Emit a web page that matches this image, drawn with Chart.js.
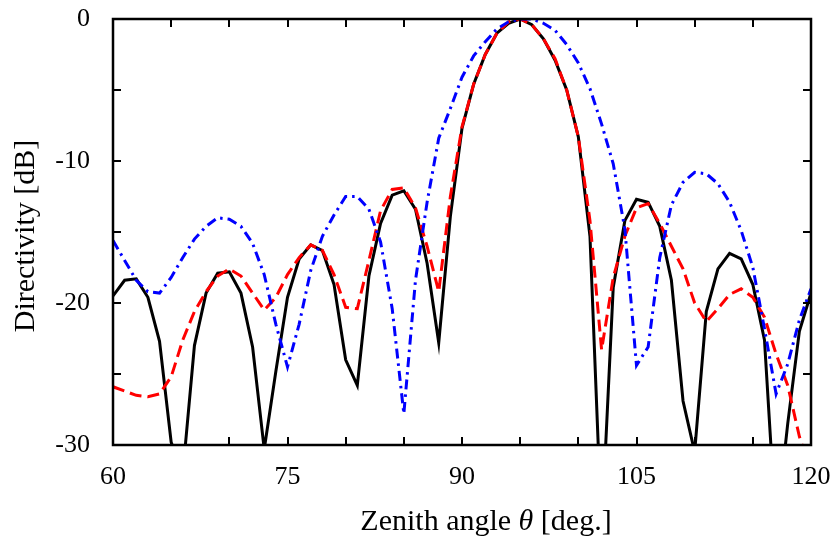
<!DOCTYPE html>
<html>
<head>
<meta charset="utf-8">
<script src="https://cdn.jsdelivr.net/npm/chart.js@4.4.1/dist/chart.umd.min.js"></script>
<style>
  html, body { margin: 0; padding: 0; background: #fff; }
  #wrap { width: 834px; height: 541px; }
</style>
</head>
<body>
<div id="wrap"><canvas id="dirChart" width="834" height="541"></canvas></div>
<script>
// Zenith angle samples [deg.]
const angles = [
    60, 61, 62, 63, 64, 65, 66, 67, 68, 69,
    70, 71, 72, 73, 74, 75, 76, 77, 78, 79,
    80, 81, 82, 83, 84, 85, 86, 87, 88, 89,
    90, 91, 92, 93, 94, 95, 96, 97, 98, 99,
    100, 101, 102, 103, 104, 105, 106, 107, 108, 109,
    110, 111, 112, 113, 114, 115, 116, 117, 118, 119, 120
];

// black solid curve [dB]
const solidDir = [
    -19.5, -18.4, -18.3, -19.6, -22.7, -29.8, -32, -23.0, -19.3, -17.9,
    -17.8, -19.3, -23.1, -30.3, -24.8, -19.6, -16.9, -15.9, -16.3, -18.7,
    -24.0, -25.8, -18.1, -14.4, -12.4, -12.1, -13.4, -17.2, -22.8, -13.9,
    -7.7, -4.6, -2.5, -1.0, -0.3, 0, -0.4, -1.4, -2.9, -5.0,
    -8.3, -15.3, -36, -18.9, -14.2, -12.7, -12.9, -14.6, -18.4, -26.9,
    -30.5, -20.6, -17.6, -16.5, -16.9, -18.7, -22.6, -36, -28.5, -22.0, -19.3
];

// red dashed curve [dB]
const dashedDir = [
    -25.9, -26.2, -26.5, -26.6, -26.4, -25.2, -22.6, -20.6, -19.2, -18.1,
    -17.6, -18.1, -19.3, -20.5, -19.6, -18.0, -16.8, -15.9, -16.3, -18.0,
    -20.3, -20.4, -17.0, -13.5, -12.0, -11.9, -13.3, -16.0, -19.2, -12.5,
    -7.6, -4.6, -2.5, -1.0, -0.2, 0, -0.4, -1.4, -2.8, -5.0,
    -8.3, -14.2, -23.3, -18.2, -15.3, -13.3, -13.0, -14.4, -16.0, -17.6,
    -20.0, -21.3, -20.4, -19.4, -19.0, -19.6, -21.0, -23.6, -25.8, -29.4, -32
];

// blue dash-dot curve [dB]
const dashDotDir = [
    -15.6, -17.0, -18.4, -19.2, -19.3, -18.2, -16.8, -15.5, -14.6, -14.0,
    -14.1, -14.6, -15.8, -18.0, -21.5, -24.5, -21.5, -17.7, -15.3, -13.8,
    -12.5, -12.5, -13.4, -15.7, -20.4, -27.8, -18.4, -12.9, -8.4, -6.3,
    -4.1, -2.6, -1.6, -0.7, -0.2, 0, 0, -0.3, -0.8, -1.8,
    -3.1, -4.9, -7.4, -10.2, -14.8, -24.4, -23.1, -16.8, -13.1, -11.5,
    -10.8, -10.9, -11.6, -12.9, -14.9, -17.5, -21.8, -26.4, -24.3, -21.2, -19.0
];

const xTicks = [60, 75, 90, 105, 120];
const yTicks = [0, -10, -20, -30];

const serif = "'Liberation Serif', 'Times New Roman', serif";

function toPoints(vals) {
    return angles.map((a, i) => ({ x: a, y: vals[i] }));
}

// frame, inward tick marks and the axis titles
const framePlugin = {
    id: 'frame',
    afterDraw(chart) {
        const { ctx, chartArea: a, scales } = chart;
        const tl = 8;
        ctx.save();
        ctx.strokeStyle = '#000';
        ctx.lineWidth = 2;
        ctx.beginPath();
        for (let v = 60; v <= 120; v += 5) {
            const px = Math.round(scales.x.getPixelForValue(v));
            ctx.moveTo(px, a.bottom); ctx.lineTo(px, a.bottom - tl);
            ctx.moveTo(px, a.top); ctx.lineTo(px, a.top + tl);
        }
        for (let v = -30; v <= 0; v += 5) {
            const py = Math.round(scales.y.getPixelForValue(v));
            ctx.moveTo(a.left, py); ctx.lineTo(a.left + tl, py);
            ctx.moveTo(a.right, py); ctx.lineTo(a.right - tl, py);
        }
        ctx.stroke();
        ctx.lineWidth = 2.5;
        ctx.strokeRect(a.left, a.top, a.right - a.left, a.bottom - a.top);

        // x title with italic theta
        ctx.fillStyle = '#000';
        ctx.textBaseline = 'alphabetic';
        ctx.textAlign = 'left';
        const normal = '30px ' + serif;
        const italic = 'italic 30px ' + serif;
        const parts = [['Zenith angle ', normal], ['\u03b8', italic], [' [deg.]', normal]];
        let total = 0;
        parts.forEach(p => { ctx.font = p[1]; total += ctx.measureText(p[0]).width; });
        let x = 486 - total / 2;
        parts.forEach(p => {
            ctx.font = p[1];
            ctx.fillText(p[0], x, 530);
            x += ctx.measureText(p[0]).width;
        });

        // y title
        ctx.translate(34, 236);
        ctx.rotate(-Math.PI / 2);
        ctx.textAlign = 'center';
        ctx.font = normal;
        ctx.fillText('Directivity [dB]', 0, 0);
        ctx.restore();
    }
};

new Chart(document.getElementById('dirChart'), {
    type: 'line',
    data: {
        datasets: [
            {
                label: 'dash-dot',
                data: toPoints(dashDotDir),
                borderColor: '#0000ff',
                borderWidth: 3,
                borderDash: [10, 5, 2.5, 5],
                pointRadius: 0,
                tension: 0
            },
            {
                label: 'dashed',
                data: toPoints(dashedDir),
                borderColor: '#ff0000',
                borderWidth: 3,
                borderDash: [12, 6],
                pointRadius: 0,
                tension: 0
            },
            {
                label: 'solid',
                data: toPoints(solidDir),
                borderColor: '#000000',
                borderWidth: 3,
                pointRadius: 0,
                tension: 0
            }
        ]
    },
    options: {
        responsive: false,
        devicePixelRatio: 1,
        animation: false,
        layout: { padding: { top: 19, right: 23, left: 0, bottom: 0 } },
        plugins: {
            legend: { display: false },
            tooltip: { enabled: false }
        },
        scales: {
            x: {
                type: 'linear',
                min: 60,
                max: 120,
                afterFit(s) {
                    s.height = 96;
                    s.paddingLeft = 0;
                    s.paddingRight = 0;
                },
                afterBuildTicks(s) { s.ticks = xTicks.map(v => ({ value: v })); },
                grid: { display: false, drawTicks: false },
                border: { display: false },
                ticks: {
                    padding: 17,
                    color: '#000',
                    font: { family: serif, size: 26 },
                    maxRotation: 0,
                    autoSkip: false
                }
            },
            y: {
                type: 'linear',
                min: -30,
                max: 0,
                afterFit(s) {
                    s.width = 113;
                    s.paddingTop = 0;
                    s.paddingBottom = 0;
                },
                afterBuildTicks(s) { s.ticks = yTicks.map(v => ({ value: v })); },
                grid: { display: false, drawTicks: false },
                border: { display: false },
                ticks: {
                    padding: 23,
                    color: '#000',
                    font: { family: serif, size: 26 }
                }
            }
        }
    },
    plugins: [framePlugin]
});
</script>
</body>
</html>
